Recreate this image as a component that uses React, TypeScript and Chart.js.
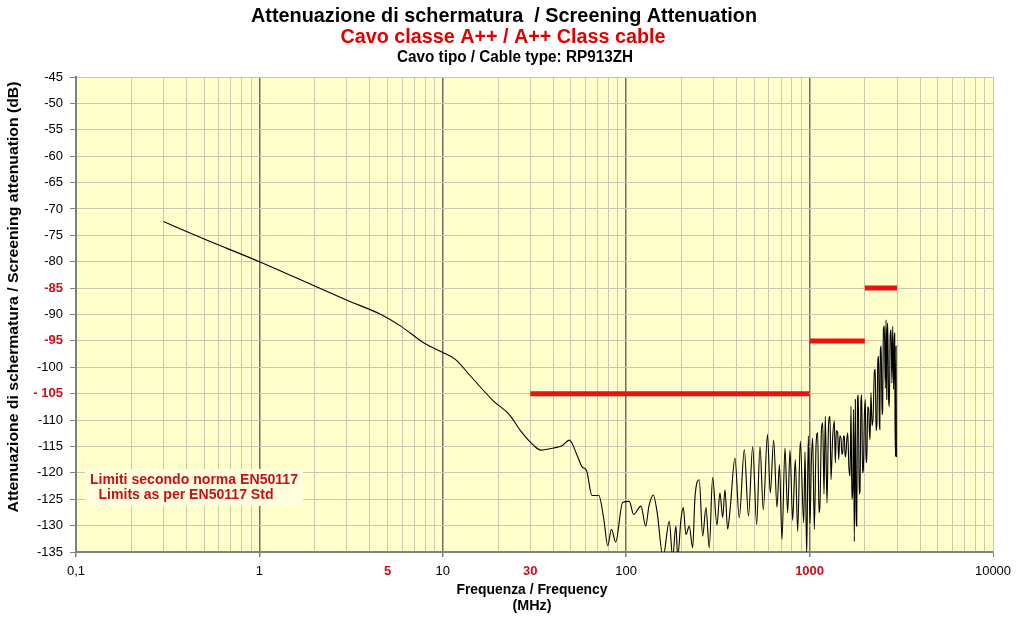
import React, { useEffect, useRef } from "react";
import { Chart, registerables } from "chart.js";

Chart.register(...registerables);

// ---- Data ----
const FREQ_MHZ: number[] = [
  0.3, 0.5, 1, 2, 3, 4.6, 5.9, 7.9, 10, 11.7, 14.2, 18.9, 23.1, 26.5, 31.3, 34.2, 40.2, 44.9, 49, 54.3,
  57.6, 60.7, 65.1, 70.9, 75.5, 79.3, 83.1, 87.6, 95.6, 104, 109.7, 120.3, 127.8, 133, 140.6, 147.6,
  158.8, 171.7, 179.1, 186.7, 190.8, 198.9, 204.7, 211.7, 220.7, 230.3, 237.1, 250.2, 261.2, 272.2,
  283.7, 296, 312.5, 324.5, 335.7, 345.5, 357.4, 369.3, 391.7, 413.5, 440.5, 464.3, 489.3, 514.5,
  536.3, 559, 589.3, 610.4, 637, 663.9, 685, 707, 734, 759.3, 781.6, 808.6, 835.5, 861.1, 889.7, 928.5,
  943.8, 964.2, 983.8, 1005, 1022, 1039.7, 1060.8, 1085, 1107, 1125, 1139.5, 1160, 1178.8, 1198, 1218,
  1244, 1268, 1292, 1308, 1335, 1364, 1381, 1400, 1423, 1441, 1462, 1483, 1500, 1516, 1530, 1546, 1563,
  1580, 1597, 1614, 1638, 1661, 1682, 1700, 1719, 1736, 1753, 1775, 1790, 1807, 1825, 1844, 1864, 1884,
  1904, 1924, 1943, 1963, 1990, 2013, 2030, 2049, 2075, 2101, 2118, 2136, 2160, 2190, 2220, 2254, 2280,
  2303, 2330, 2353, 2378, 2400, 2415, 2431, 2457, 2483, 2503, 2524, 2555, 2588, 2610, 2634, 2650, 2667,
  2695, 2721, 2750, 2780, 2810, 2840, 2870, 2897, 2910, 2923, 2940, 2960, 2975, 2986, 3000, 3024,
];
const ATTEN_DB: number[] = [
  -72.4, -75.7, -80.0, -84.6, -87.3, -90.0, -92.2, -95.4, -97.2, -98.5, -101.7, -106.4, -109.0, -112.0,
  -114.8, -115.7, -115.3, -114.8, -113.8, -116.9, -118.9, -119.5, -124.3, -124.3, -128.8, -133.8,
  -130.7, -133.1, -125.6, -125.4, -127.9, -126.3, -130.1, -126.3, -124.2, -127.6, -136, -129.2, -136,
  -130.1, -136, -128.8, -126.6, -131.7, -130.1, -134.2, -124.7, -121.3, -132.0, -126.6, -134.2,
  -120.9, -129.9, -123.8, -128.5, -123.2, -130.7, -126.6, -117.2, -128.5, -115.6, -128.2, -115.0,
  -129.8, -115.0, -127.0, -112.7, -123.8, -113.8, -126.5, -118.5, -132.6, -115.3, -127.6, -115.7,
  -129.0, -117.5, -131.1, -114.0, -129.5, -116.0, -135.5, -113.0, -129.5, -118.0, -113.4, -130.7,
  -114.5, -112.4, -127.5, -125.7, -112.0, -110.5, -124.0, -109.3, -125.7, -111.0, -109.3, -121.3,
  -113.5, -110.2, -118.1, -112.0, -112.4, -117.5, -113.0, -113.4, -116.5, -116.2, -113.0, -113.1,
  -117.0, -116.2, -113.5, -112.4, -119.0, -120.6, -107.4, -125.0, -123.2, -108.0, -133.0, -106.1,
  -126.0, -130.1, -106.0, -105.2, -124.0, -123.5, -106.5, -105.2, -120.0, -119.4, -109.0, -106.1,
  -117.0, -118.1, -107.5, -108.0, -112.0, -113.7, -104.8, -111.0, -109.3, -101.0, -100.4, -112.0,
  -110.5, -99.0, -97.9, -110.0, -111.8, -97.0, -96.0, -109.0, -108.0, -93.0, -92.2, -104.0, -91.0,
  -106.1, -93.0, -91.6, -106.0, -107.4, -94.0, -92.9, -103.0, -92.2, -104.2, -95.0, -93.5, -110.0,
  -116.9, -96.0, -117.0,
];

const LIMIT_F_START: number[] = [30, 1000, 2000];
const LIMIT_F_END: number[] = [1000, 2000, 3000];
const LIMIT_DB: number[] = [-105, -95, -85];

const X_DECADES: number[] = [0.1, 1, 10, 100, 1000];
const X_LABEL_VALUES: number[] = [0.1, 1, 5, 10, 30, 100, 1000, 10000];
const X_LABEL_TEXT: string[] = ["0,1", "1", "5", "10", "30", "100", "1000", "10000"];
const X_RED_LABELS: number[] = [5, 30, 1000];
const Y_RED_LABELS: number[] = [-85, -95, -105];

const TITLE_1 = "Attenuazione di schermatura  / Screening Attenuation";
const TITLE_2 = "Cavo classe A++ / A++ Class cable";
const TITLE_3 = "Cavo tipo / Cable type: RP913ZH";
const Y_TITLE = "Attenuazione di schermatura / Screening attenuation (dB)";
const X_TITLE_1 = "Frequenza / Frequency";
const X_TITLE_2 = "(MHz)";
const NOTE_1 = "Limiti secondo norma EN50117";
const NOTE_2 = "Limits as per EN50117 Std";

const SANS = "'Liberation Sans', Arial, Helvetica, sans-serif";
const NARROW = "'Liberation Sans Narrow', 'Arial Narrow', 'Liberation Sans', sans-serif";
const RED_TEXT = "#c8101a";

const near = (a: number, b: number) => Math.abs(a - b) < 1e-6 * Math.max(1, Math.abs(b));
const isDecade = (v: number) => X_DECADES.some((d) => near(v, d));
const tv = (c: any): number | null => (c && c.tick && typeof c.tick.value === "number" ? c.tick.value : null);
const isXRed = (c: any) => {
  const v = tv(c);
  return v !== null && X_RED_LABELS.some((r) => near(r, v));
};
const isYRed = (c: any) => {
  const v = tv(c);
  return v !== null && Y_RED_LABELS.includes(v);
};

function fitText(ctx: CanvasRenderingContext2D, text: string, cx: number, cy: number, width: number) {
  const m = ctx.measureText(text).width;
  const sx = width / m;
  ctx.save();
  ctx.translate(cx, cy);
  ctx.scale(sx, 1);
  ctx.textAlign = "center";
  ctx.textBaseline = "middle";
  ctx.fillText(text, 0, 0);
  ctx.restore();
}

const decorPlugin = {
  id: "decor",
  beforeDraw(chart: any) {
    const { ctx, chartArea } = chart;
    ctx.save();
    ctx.fillStyle = "#ffffff";
    ctx.fillRect(0, 0, chart.width, chart.height);
    ctx.fillStyle = "#ffffcc";
    ctx.fillRect(chartArea.left, chartArea.top, chartArea.right - chartArea.left, chartArea.bottom - chartArea.top);
    ctx.restore();
  },
  beforeDatasetsDraw(chart: any) {
    const { ctx } = chart;
    ctx.save();
    ctx.fillStyle = "#ffffdd";
    ctx.fillRect(85, 469, 218, 37);
    ctx.fillStyle = RED_TEXT;
    ctx.font = `bold 14px ${SANS}`;
    fitText(ctx, NOTE_1, 194, 480, 208);
    fitText(ctx, NOTE_2, 186, 495, 175);
    ctx.restore();
  },
  afterDraw(chart: any) {
    const { ctx } = chart;
    ctx.save();
    ctx.fillStyle = "#000000";
    ctx.font = `bold 21px ${NARROW}`;
    fitText(ctx, TITLE_1, 504, 16, 506);
    ctx.fillStyle = "#e00000";
    ctx.font = `bold 20px ${NARROW}`;
    fitText(ctx, TITLE_2, 503, 37, 325);
    ctx.fillStyle = "#000000";
    ctx.font = `bold 16px ${NARROW}`;
    fitText(ctx, TITLE_3, 515, 58, 236);

    ctx.font = `bold 14px ${SANS}`;
    fitText(ctx, X_TITLE_1, 532, 590, 151);
    fitText(ctx, X_TITLE_2, 532, 606, 39);

    ctx.translate(14, 297);
    ctx.rotate(-Math.PI / 2);
    fitText(ctx, Y_TITLE, 0, 0, 431);
    ctx.restore();
  },
};

export default function App() {
  const ref = useRef<HTMLCanvasElement | null>(null);

  useEffect(() => {
    if (!ref.current) return;
    const curve = FREQ_MHZ.map((f, i) => ({ x: f, y: ATTEN_DB[i] }));
    const limitSets = LIMIT_DB.map((db, i) => ({
      data: [
        { x: LIMIT_F_START[i], y: db },
        { x: LIMIT_F_END[i], y: db },
      ],
      borderColor: "#ee1111",
      borderWidth: 5,
      pointRadius: 0,
      borderCapStyle: "butt" as const,
      clip: 0,
    }));

    const xTicks: number[] = [];
    X_DECADES.forEach((d) => {
      for (let m = 1; m <= 9; m++) xTicks.push(Number((d * m).toPrecision(6)));
    });
    xTicks.push(10000);

    const chart = new Chart(ref.current, {
      type: "line",
      data: {
        datasets: [
          ...limitSets,
          {
            data: curve,
            borderColor: "#000000",
            borderWidth: 1.1,
            pointRadius: 0,
            cubicInterpolationMode: "monotone",
            clip: 0,
          },
        ],
      },
      options: {
        animation: false,
        responsive: false,
        events: [],
        layout: { padding: { top: 77, right: 31, bottom: 0, left: 0 } },
        plugins: { legend: { display: false }, title: { display: false }, tooltip: { enabled: false } },
        scales: {
          x: {
            type: "logarithmic",
            min: 0.1,
            max: 10000,
            afterBuildTicks: (scale: any) => {
              scale.ticks = xTicks.map((v) => ({ value: v }));
            },
            afterFit: (scale: any) => {
              scale.height = 70;
            },
            border: { display: true, color: "#808080", width: 2 },
            grid: {
              color: (c: any) => {
                const v = tv(c);
                return v !== null && isDecade(v) && !near(v, 0.1) ? "#6e6e6e" : "#c9c9b0";
              },
              lineWidth: (c: any) => {
                const v = tv(c);
                return v !== null && isDecade(v) ? 1.5 : 1;
              },
              tickColor: (c: any) => {
                const v = tv(c);
                return v !== null && (isDecade(v) || near(v, 10000)) ? "#808080" : "rgba(0,0,0,0)";
              },
              tickLength: 5,
              drawTicks: true,
            },
            ticks: {
              autoSkip: false,
              maxRotation: 0,
              minRotation: 0,
              padding: 7,
              color: (c: any) => (isXRed(c) ? RED_TEXT : "#000000"),
              font: (c: any) => ({ family: SANS, size: 13, weight: isXRed(c) ? "bold" : "normal" }),
              callback: (value: any) => {
                const idx = X_LABEL_VALUES.findIndex((v) => near(v, Number(value)));
                return idx >= 0 ? X_LABEL_TEXT[idx] : "";
              },
            },
          },
          y: {
            type: "linear",
            min: -135,
            max: -45,
            afterFit: (scale: any) => {
              scale.width = 76;
            },
            border: { display: true, color: "#808080", width: 2 },
            grid: {
              color: "#c9c9b0",
              lineWidth: 1,
              tickColor: "#808080",
              tickLength: 6,
            },
            ticks: {
              stepSize: 5,
              padding: 7,
              color: (c: any) => (isYRed(c) ? RED_TEXT : "#000000"),
              font: (c: any) => ({ family: SANS, size: 13, weight: isYRed(c) ? "bold" : "normal" }),
              callback: (value: any) => (Number(value) === -105 ? "- 105" : String(value)),
            },
          },
        },
      },
      plugins: [decorPlugin],
    } as any);

    return () => chart.destroy();
  }, []);

  return (
    <div style={{ position: "fixed", left: 0, top: 0, width: 1024, height: 622 }}>
      <canvas ref={ref} width={1024} height={622} style={{ display: "block", width: 1024, height: 622 }} />
    </div>
  );
}
